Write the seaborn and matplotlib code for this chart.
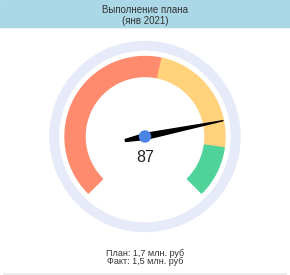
import numpy as np
import matplotlib
matplotlib.use("Agg")
import matplotlib.pyplot as plt
from matplotlib.patches import Wedge, Rectangle, Polygon
import seaborn as sns
import pandas as pd

# ---- data ----
title_lines = ["Выполнение плана", "(янв 2021)"]
gauge_min = 0
gauge_max = 110
band_starts = [0, 60, 95]
band_ends = [60, 95, 110]
band_colors = ["#ff8b6f", "#ffd27b", "#4fd39b"]
value = 87
footer_lines = ["План: 1,7 млн. руб", "Факт: 1,5 млн. руб"]

sns.set_theme(style="white")
plt.rcParams['font.family'] = ['Liberation Sans', 'DejaVu Sans']

W, H = 290, 275
fig = plt.figure(figsize=(W / 100, H / 100), dpi=100)
ax = fig.add_axes([0, 0, 1, 1])

cx, cy = 145, H - 136.5


def ang(v):
    return 225 - 270 * (v - gauge_min) / (gauge_max - gauge_min)


# header band
ax.add_patch(Rectangle((0, H - 27), W, 27, color="#aad8e6", zorder=1))
ax.text(W / 2, H - 10, title_lines[0], ha="center", va="center", fontsize=7, color="#333333", zorder=3)
ax.text(W / 2, H - 21.5, title_lines[1], ha="center", va="center", fontsize=7, color="#333333", zorder=3)

# outer ring
ax.add_patch(Wedge((cx, cy), 95, 0, 360, width=8.5, color="#e6eaf9", zorder=1))

# colored bands
for s, e, c in zip(band_starts, band_ends, band_colors):
    ax.add_patch(Wedge((cx, cy), 80, ang(e), ang(s), width=20, color=c, zorder=2))

# needle
a = np.deg2rad(ang(value))
d = np.array([np.cos(a), np.sin(a)])
p = np.array([-d[1], d[0]])
c0 = np.array([cx, cy])
tip = c0 + d * 80
tail = c0 - d * 20
pts = [tip, c0 + p * 3.0, tail + p * 1.0, tail - p * 1.0, c0 - p * 3.0]
ax.add_patch(Polygon(pts, closed=True, color="black", zorder=4))

# hub
hub = pd.DataFrame({"x": [cx], "y": [cy]})
sns.scatterplot(data=hub, x="x", y="y", ax=ax, s=80, color="#4a84e4", edgecolor="none", zorder=5, legend=False)
ax.set_xlim(0, W)
ax.set_ylim(0, H)
ax.axis("off")

# value label
ax.text(cx, H - 157, f"{value}", ha="center", va="center", fontsize=11.5, color="#222222", zorder=5)

# footer
ax.text(W / 2, H - 253, footer_lines[0], ha="center", va="center", fontsize=6.5, color="#333333")
ax.text(W / 2, H - 262, footer_lines[1], ha="center", va="center", fontsize=6.5, color="#333333")
ax.plot([4, W - 4], [1.5, 1.5], color="#e8e8e8", lw=1.2)

fig.savefig("out.png", dpi=100)
